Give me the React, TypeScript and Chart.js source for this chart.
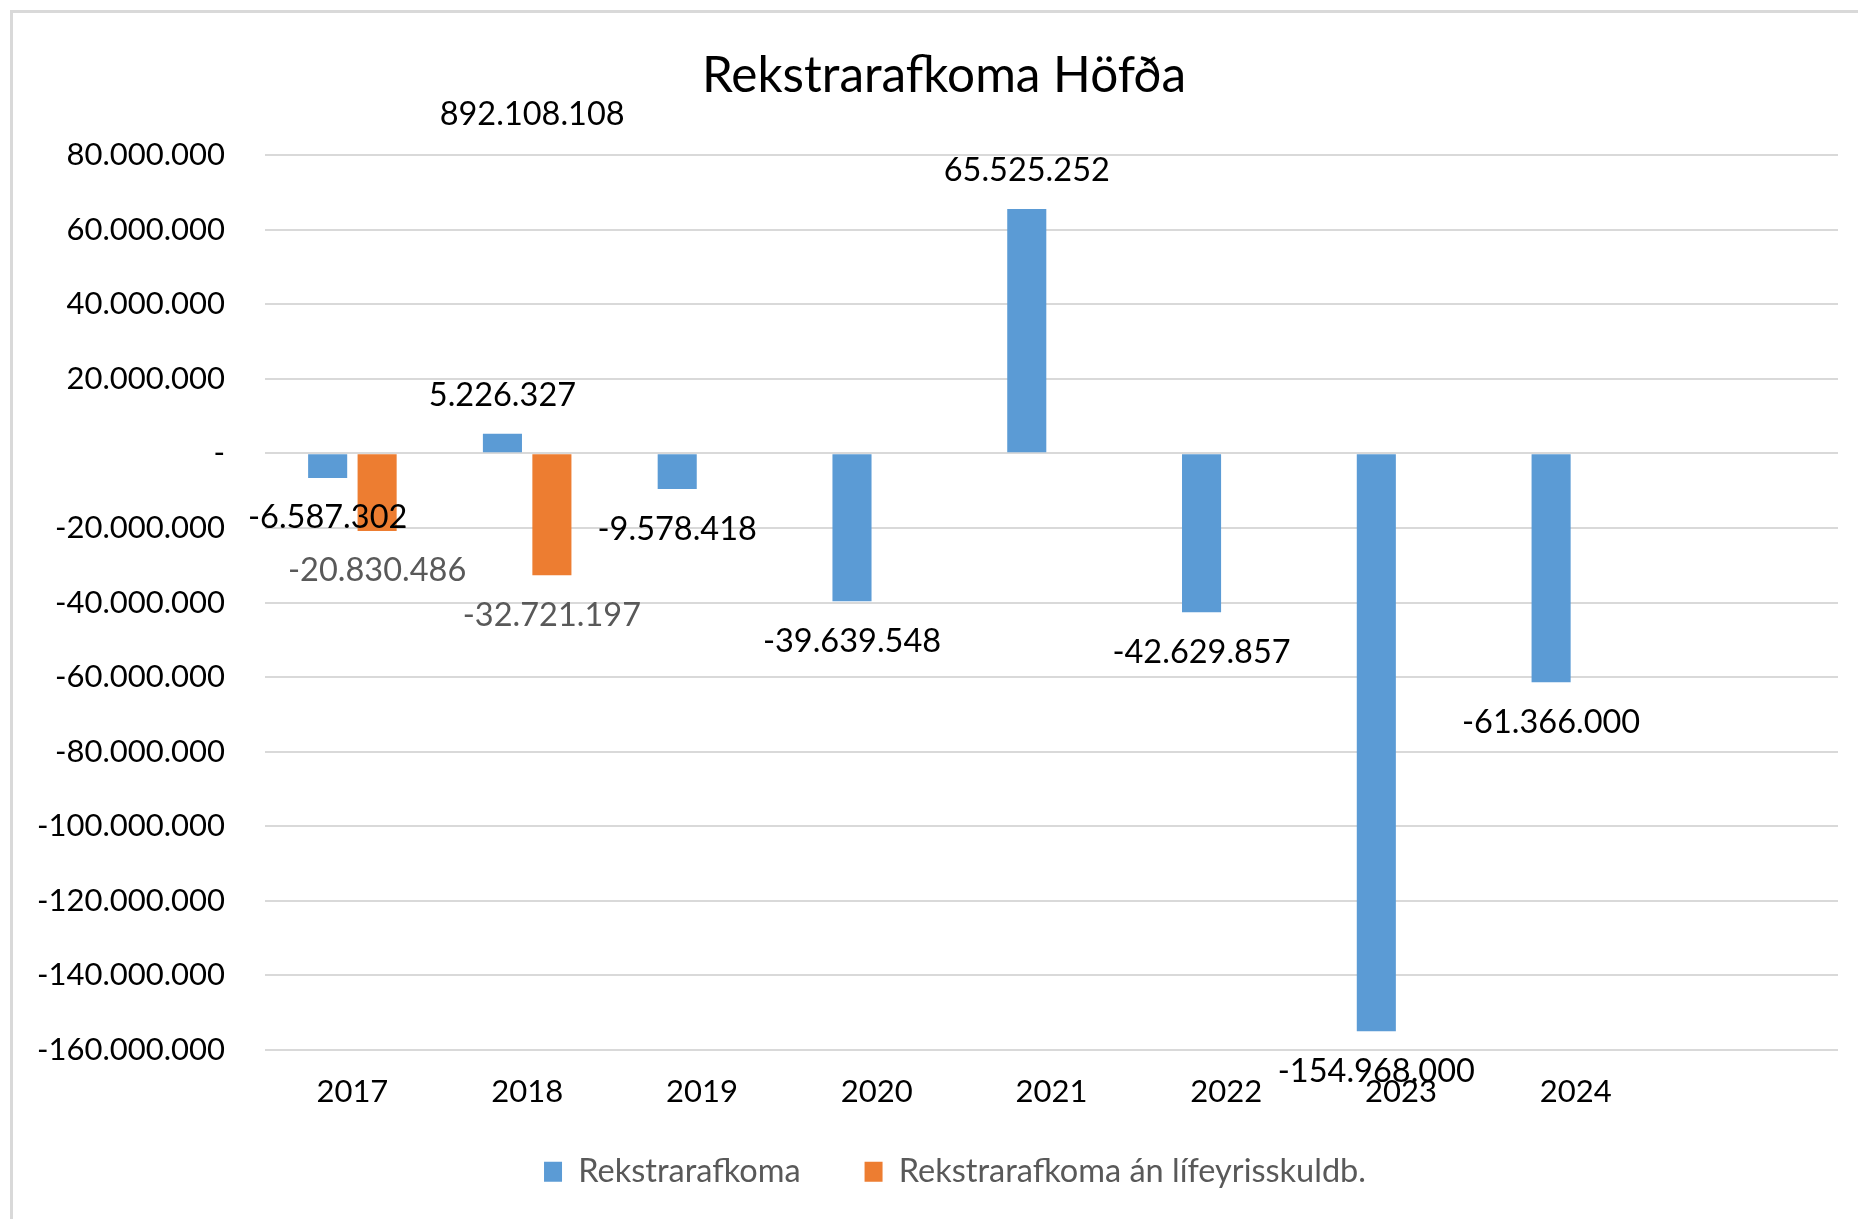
import React, { useEffect, useRef } from 'react';
import { Chart, registerables } from 'chart.js';

Chart.register(...registerables);

const chartTitle = 'Rekstrarafkoma Höfða';
const categories = ['2017', '2018', '2019', '2020', '2021', '2022', '2023', '2024', ''];
const seriesNames = ['Rekstrarafkoma', 'Rekstrarafkoma án lífeyrisskuldb.'];
const rekstrarafkoma = [-6587302, 5226327, -9578418, -39639548, 65525252, -42629857, -154968000, -61366000, null];
const anLifeyrisskuldb = [-20830486, -32721197, null, null, null, null, null, null, null];
const yMin = -160000000;
const yMax = 80000000;
const yStep = 20000000;
const strayLabel = '892.108.108';
const strayLabelCategory = '2018';

const FONT = 'Lato';

function fmt(v: number): string {
  if (v === 0) return '-';
  const s = Math.round(Math.abs(v)).toString().replace(/\B(?=(\d{3})+(?!\d))/g, '.');
  return (v < 0 ? '-' : '') + s;
}

const dataLabelsPlugin = {
  id: 'dataLabels',
  afterDatasetsDraw(chart: any) {
    const ctx = chart.ctx;
    ctx.save();
    ctx.font = `32.5px ${FONT}`;
    ctx.textAlign = 'center';
    ctx.textBaseline = 'middle';
    chart.data.datasets.forEach((ds: any, di: number) => {
      const meta = chart.getDatasetMeta(di);
      meta.data.forEach((el: any, i: number) => {
        const v = ds.data[i];
        if (v === null || v === undefined) return;
        ctx.fillStyle = di === 0 ? '#000000' : '#595959';
        const y = v >= 0 ? el.y - 38 : el.y + 40;
        ctx.fillText(fmt(v), el.x, y);
      });
    });
    const xs = chart.scales.x;
    const idx = categories.indexOf(strayLabelCategory);
    ctx.fillStyle = '#000000';
    ctx.fillText(strayLabel, xs.getPixelForValue(idx) + 5, chart.chartArea.top - 40);
    ctx.restore();
  },
};

const layoutTweaks = {
  id: 'layoutTweaks',
  afterLayout(chart: any) {
    const xs = chart.scales.x;
    if (xs) {
      xs.height = 100;
      xs.bottom = xs.top + 100;
    }
    const lg = chart.legend;
    if (lg) {
      lg.left += 36;
      lg.right += 36;
    }
    const tb = chart.titleBlock;
    if (tb) {
      tb.left += 25;
      tb.right += 25;
    }
  },
};

export default function App() {
  const ref = useRef<HTMLCanvasElement | null>(null);
  useEffect(() => {
    if (!ref.current) return;
    const chart = new Chart(ref.current, {
      type: 'bar',
      data: {
        labels: categories,
        datasets: [
          {
            label: seriesNames[0],
            data: rekstrarafkoma,
            backgroundColor: '#5b9bd5',
            categoryPercentage: 0.566,
            barPercentage: 0.79,
          },
          {
            label: seriesNames[1],
            data: anLifeyrisskuldb,
            backgroundColor: '#ed7d31',
            categoryPercentage: 0.566,
            barPercentage: 0.79,
          },
        ],
      },
      options: {
        responsive: false,
        animation: false,
        devicePixelRatio: 1,
        layout: { padding: { left: 0, right: 20, top: 0, bottom: 21 } },
        plugins: {
          title: {
            display: true,
            text: chartTitle,
            color: '#000000',
            font: { family: FONT, size: 49.5, weight: 'normal' },
            padding: { top: 46.7, bottom: 48.9 },
          },
          legend: {
            position: 'bottom',
            labels: {
              boxWidth: 18,
              boxHeight: 20,
              padding: 64,
              color: '#595959',
              font: { family: FONT, size: 32.5 },
            },
          },
          tooltip: { enabled: false },
        },
        scales: {
          x: {
            grid: { display: false },
            border: { display: false },
            ticks: {
              color: '#000000',
              font: { family: FONT, size: 31 },
              padding: 15,
              maxRotation: 0,
              autoSkip: false,
            },
            afterFit: (s: any) => {
              s.height = 41.5;
            },
          },
          y: {
            min: yMin,
            max: yMax,
            ticks: {
              stepSize: yStep,
              color: '#000000',
              font: { family: FONT, size: 31 },
              padding: 40,
              callback: (v: any) => fmt(Number(v)),
            },
            grid: { color: '#d9d9d9', lineWidth: 2, drawTicks: false },
            border: { display: false },
            afterFit: (s: any) => {
              s.width = 265;
            },
          },
        },
      },
      plugins: [dataLabelsPlugin, layoutTweaks],
    });
    return () => chart.destroy();
  }, []);

  return (
    <div
      style={{
        position: 'fixed',
        left: 0,
        top: 0,
        width: 1858,
        height: 1219,
        overflow: 'hidden',
        background: '#ffffff',
      }}
    >
      <div
        style={{
          position: 'absolute',
          left: 10,
          top: 10,
          width: 2000,
          height: 1400,
          border: '3px solid #d9d9d9',
        }}
      />
      <canvas ref={ref} width={1858} height={1219} style={{ position: 'absolute', left: 0, top: 0 }} />
    </div>
  );
}
